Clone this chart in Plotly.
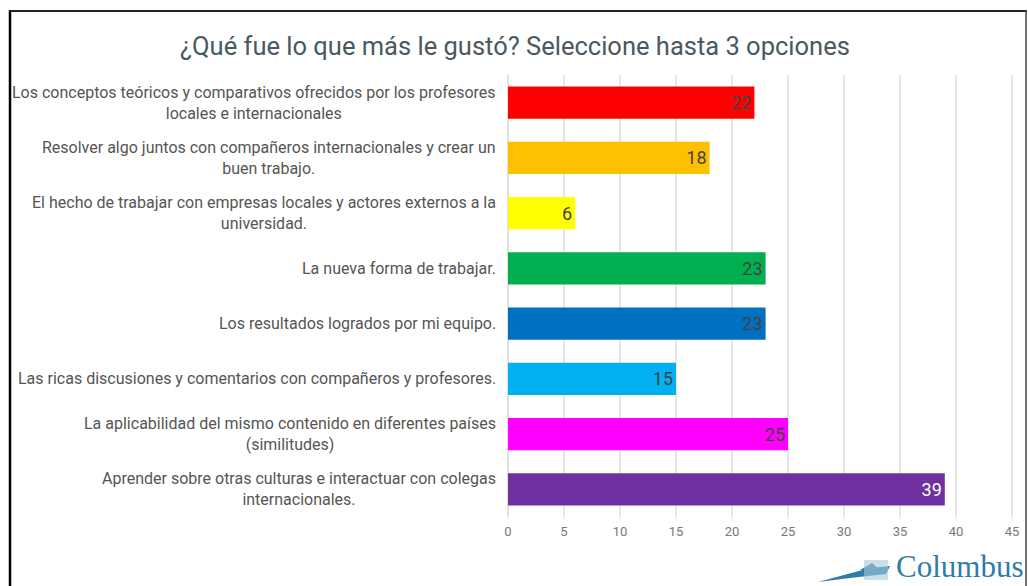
import plotly.graph_objects as go

categories = [
    "Los conceptos teóricos y comparativos ofrecidos por los profesores<br>locales e internacionales",
    "Resolver algo juntos con compañeros internacionales y crear un<br>buen trabajo.",
    "El hecho de trabajar con empresas locales y actores externos a la<br>universidad.",
    "La nueva forma de trabajar.",
    "Los resultados logrados por mi equipo.",
    "Las ricas discusiones y comentarios con compañeros y profesores.",
    "La aplicabilidad del mismo contenido en diferentes países<br>(similitudes)",
    "Aprender sobre otras culturas e interactuar con colegas<br>internacionales.",
]
values = [22, 18, 6, 23, 23, 15, 25, 39]
bar_colors = ["#ff0000", "#ffc000", "#ffff00", "#00b050", "#0070c0", "#00b0f0", "#ff00ff", "#7030a0"]
text_colors = ["#444444"] * 7 + ["#ffffff"]
title_text = "¿Qué fue lo que más le gustó? Seleccione hasta 3 opciones"

W, H = 1028, 586
L, R, T, B = 508, 0, 75, 69
pw, ph = W - L - R, H - T - B

def px(x):
    return (x - L) / pw

def py(y):
    return (H - B - y) / ph

fig = go.Figure()
fig.add_trace(go.Bar(
    y=list(range(len(categories))),
    x=values,
    orientation="h",
    marker=dict(color=bar_colors, line=dict(width=0)),
    text=[str(v) for v in values],
    textposition="inside",
    insidetextanchor="end",
    textfont=dict(color=text_colors, size=18, family="Roboto"),
    hoverinfo="skip",
))

annotations = []
for i, c in enumerate(categories):
    annotations.append(dict(
        x=0, xref="paper", y=i, yref="y", text=c, showarrow=False,
        xanchor="right", yanchor="middle", align="center", xshift=-10,
        font=dict(family="Roboto", size=16, color="#555555"),
    ))
annotations.append(dict(
    x=px(515), xref="paper", y=py(46), yref="paper", text=title_text,
    showarrow=False, xanchor="center", yanchor="middle",
    font=dict(family="Roboto", size=25.5, color="#4a5860"),
))
annotations.append(dict(
    x=px(895), xref="paper", y=py(585), yref="paper", text="Columbus",
    showarrow=False, xanchor="left", yanchor="bottom", borderpad=0,
    font=dict(family="Liberation Serif", size=31, color="#2f7ca6"),
))

shapes = [
    # frame
    dict(type="line", xref="paper", yref="paper", x0=px(10), x1=px(10), y0=py(10), y1=py(600),
         line=dict(color="black", width=2.5)),
    dict(type="line", xref="paper", yref="paper", x0=px(9), x1=px(1027), y0=py(11), y1=py(11),
         line=dict(color="#222222", width=2)),
    dict(type="line", xref="paper", yref="paper", x0=px(1026), x1=px(1026), y0=py(10), y1=py(600),
         line=dict(color="#444444", width=1.5)),
    # logo swoosh
    dict(type="path", xref="paper", yref="paper",
         path=f"M {px(818)} {py(582)} L {px(870)} {py(568)} L {px(890)} {py(566)} L {px(886)} {py(574)} L {px(850)} {py(578)} Z",
         fillcolor="#2f7ca6", line=dict(width=0)),
    dict(type="path", xref="paper", yref="paper",
         path=f"M {px(860)} {py(570)} L {px(872)} {py(563)} L {px(880)} {py(570)} Z",
         fillcolor="#2f7ca6", line=dict(width=0)),
    dict(type="rect", xref="paper", yref="paper", x0=px(864), x1=px(888), y0=py(580), y1=py(560),
         fillcolor="#a9c9da", line=dict(width=0), opacity=0.6),
]

fig.update_layout(
    width=W, height=H,
    margin=dict(l=L, r=R, t=T, b=B, pad=0),
    paper_bgcolor="white", plot_bgcolor="white",
    showlegend=False,
    bargap=0.42,
    xaxis=dict(
        range=[0, pw / 11.2], tickvals=[0, 5, 10, 15, 20, 25, 30, 35, 40, 45],
        showgrid=True, gridcolor="#e6e6e6", gridwidth=1.5,
        zeroline=True, zerolinecolor="#e0e0e0", zerolinewidth=1.5,
        ticks="outside", ticklen=2, tickcolor="#e6e6e6",
        tickfont=dict(family="Roboto", size=13, color="#777777"),
        fixedrange=True,
    ),
    yaxis=dict(
        range=[len(categories) - 0.5, -0.5],
        showticklabels=False, showgrid=False, zeroline=False, ticks="",
        fixedrange=True,
    ),
    annotations=annotations,
    shapes=shapes,
)

fig.write_html(
    "out.html",
    config={"displayModeBar": False},
    post_script="document.body.style.margin='0';document.body.style.overflow='hidden';",
)
